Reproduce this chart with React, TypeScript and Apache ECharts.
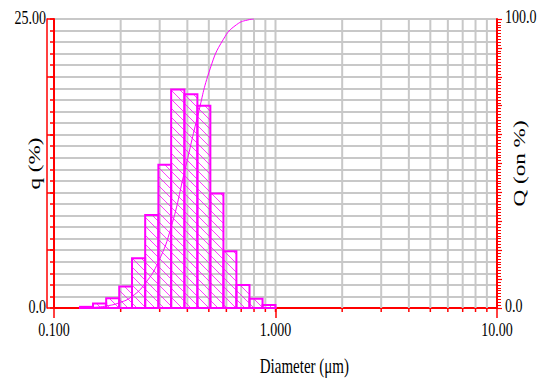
import React, { useEffect, useRef } from "react";
import * as echarts from "echarts";

// Bin edges (µm) of the histogram
const binEdges = [0.131, 0.150, 0.172, 0.197, 0.225, 0.258, 0.296, 0.338, 0.388, 0.444, 0.508, 0.582, 0.666, 0.763, 0.874, 1.0];
// q (%) per bin
const qValues = [0.1, 0.4, 0.85, 1.85, 4.3, 8.05, 12.4, 18.9, 18.5, 17.5, 9.9, 4.9, 2.0, 0.8, 0.25];
// Q (on %) cumulative at bin edges (up to where the curve meets the top)
const cumEdges = [0.131, 0.150, 0.172, 0.197, 0.225, 0.258, 0.296, 0.338, 0.388, 0.444, 0.508, 0.582, 0.666, 0.763, 0.800];
const cumValues = [0, 0.2, 0.7, 1.8, 4.0, 8.5, 16, 28, 47, 66, 83, 93, 98, 99.8, 100];
// log grid positions
const gridXs = [0.2, 0.3, 0.4, 0.5, 0.6, 0.7, 0.8, 0.9, 1, 2, 3, 4, 5, 6, 7, 8, 9];
// tick labels
const xTickValues = [0.1, 1, 10];
const xTickLabels = ["0.100", "1.000", "10.00"];
const qTickValues = [0, 25];
const qTickLabels = ["0.0", "25.00"];
const QTickValues = [0, 100];
const QTickLabels = ["0.0", "100.0"];

const RED = "#ff0000";
const MAG = "#ff00ff";
const GRID = "#c8c8c8";
const FAMILY = "'Liberation Serif', 'Times New Roman', serif";

export default function App() {
  const ref = useRef<HTMLDivElement>(null);
  useEffect(() => {
    if (!ref.current) return;
    const chart = echarts.init(ref.current, undefined, { renderer: "svg" });
    const binData = qValues.map((v, i) => [binEdges[i], binEdges[i + 1], v]);
    const option: any = {
      animation: false,
      backgroundColor: "#ffffff",
      grid: { left: 54, right: 45, top: 19, bottom: 71, containLabel: false },
      xAxis: [
        {
          type: "log", logBase: 10, min: 0.1, max: 10, position: "bottom",
          axisLine: { show: true, lineStyle: { color: RED, width: 2 } },
          axisTick: { show: true, inside: false, length: 10, lineStyle: { color: RED, width: 1.5 } },
          axisLabel: { show: false }, splitLine: { show: false }, minorTick: { show: false },
        },
        {
          type: "log", logBase: 10, min: 0.1, max: 10, position: "bottom", offset: 10,
          axisLine: { show: true, lineStyle: { color: RED, width: 1.5 } },
          axisTick: { show: false }, axisLabel: { show: false }, splitLine: { show: false },
        },
        {
          type: "log", logBase: 10, min: 0.1, max: 10, position: "top",
          axisLine: { show: true, lineStyle: { color: RED, width: 2 } },
          axisTick: { show: false }, axisLabel: { show: false }, splitLine: { show: false },
        },
      ],
      yAxis: [
        {
          type: "value", min: 0, max: 25, interval: 1, position: "left",
          axisLine: { show: true, lineStyle: { color: RED, width: 2 } },
          axisTick: { show: true, inside: false, length: 4, lineStyle: { color: RED, width: 1.5 } },
          axisLabel: { show: false },
          splitLine: { show: true, lineStyle: { color: GRID, width: 2 } },
        },
        {
          type: "value", min: 0, max: 100, interval: 10, position: "right",
          axisLine: { show: true, lineStyle: { color: RED, width: 2 } },
          axisTick: { show: true, inside: false, length: 5, lineStyle: { color: RED, width: 1.2 } },
          minorTick: { show: true, splitNumber: 10, length: 4, lineStyle: { color: RED, width: 1 } },
          axisLabel: { show: false }, splitLine: { show: false },
        },
        {
          type: "value", min: 0, max: 25, interval: 5, position: "left",
          axisLine: { show: false },
          axisTick: { show: true, inside: false, length: 7, lineStyle: { color: RED, width: 1.5 } },
          axisLabel: { show: false }, splitLine: { show: false },
        },
        {
          type: "value", min: 0, max: 25, position: "left", offset: 7,
          axisLine: { show: true, lineStyle: { color: RED, width: 1.5 } },
          axisTick: { show: false }, axisLabel: { show: false }, splitLine: { show: false },
        },
      ],
      series: [
        {
          type: "custom", name: "grid", xAxisIndex: 0, yAxisIndex: 0, z: 1, clip: false,
          data: gridXs.map((x) => [x, 0]),
          encode: { x: 0, y: 1 },
          renderItem: (params: any, api: any) => {
            const x = api.value(0);
            const b = api.coord([x, 0]);
            const t = api.coord([x, 25]);
            return {
              type: "group",
              children: [
                { type: "line", shape: { x1: b[0], y1: t[1], x2: b[0], y2: b[1] }, style: { stroke: GRID, lineWidth: 2 } },
                { type: "line", shape: { x1: b[0], y1: b[1], x2: b[0], y2: b[1] + 4 }, style: { stroke: RED, lineWidth: 1.5 } },
              ],
            };
          },
        },
        {
          type: "custom", name: "q", xAxisIndex: 0, yAxisIndex: 0, z: 3,
          data: binData,
          encode: { x: [0, 1], y: 2 },
          renderItem: (params: any, api: any) => {
            const lo = api.value(0), hi = api.value(1), v = api.value(2);
            const a = api.coord([lo, v]);
            const b = api.coord([hi, 0]);
            const x0 = a[0], x1 = b[0], yT = a[1], yB = b[1];
            const children: any[] = [];
            const sp = 9;
            const kStart = Math.ceil((yT - x1) / sp);
            const kEnd = Math.floor((yB - x0) / sp);
            for (let k = kStart; k <= kEnd; k++) {
              const c = k * sp;
              const xs = Math.max(x0, yT - c);
              const xe = Math.min(x1, yB - c);
              if (xe > xs) {
                children.push({
                  type: "line",
                  shape: { x1: xs, y1: xs + c, x2: xe, y2: xe + c },
                  style: { stroke: MAG, lineWidth: 1, opacity: 0.75 },
                });
              }
            }
            children.push({
              type: "rect",
              shape: { x: x0, y: yT, width: x1 - x0, height: yB - yT },
              style: { fill: "none", stroke: MAG, lineWidth: 2 },
            });
            return { type: "group", children };
          },
        },
        {
          type: "line", name: "Q", xAxisIndex: 0, yAxisIndex: 1, z: 4,
          data: cumEdges.map((e, i) => [e, cumValues[i]]),
          symbol: "none", smooth: 0.5,
          lineStyle: { color: MAG, width: 1 },
        },
      ],
    };
    chart.setOption(option);

    const graphics: any[] = [];
    const bottomY = chart.convertToPixel({ yAxisIndex: 0 }, 0) as number;
    const leftX = chart.convertToPixel({ xAxisIndex: 0 }, 0.1) as number;
    const rightX = chart.convertToPixel({ xAxisIndex: 0 }, 10) as number;
    const txt = (text: string, size: number, align: string) => ({
      text, fontSize: size, fontFamily: FAMILY, fontWeight: "normal", fill: "#000", align, verticalAlign: "middle",
    });
    xTickValues.forEach((v, i) => {
      const px = chart.convertToPixel({ xAxisIndex: 0 }, v) as number;
      graphics.push({ type: "text", x: px, y: bottomY + 22, scaleY: 1.4, z: 100, style: txt(xTickLabels[i], 14, "center") });
    });
    qTickValues.forEach((v, i) => {
      const py = chart.convertToPixel({ yAxisIndex: 0 }, v) as number;
      graphics.push({ type: "text", x: leftX - 8, y: py - 1, scaleY: 1.4, z: 100, style: txt(qTickLabels[i], 14, "right") });
    });
    QTickValues.forEach((v, i) => {
      const py = chart.convertToPixel({ yAxisIndex: 1 }, v) as number;
      graphics.push({ type: "text", x: rightX + 8, y: py - 2, scaleY: 1.4, z: 100, style: txt(QTickLabels[i], 14, "left") });
    });
    const midX = chart.convertToPixel({ xAxisIndex: 0 }, 1.35) as number;
    graphics.push({ type: "text", x: midX, y: bottomY + 57, scaleY: 1.45, z: 100, style: txt("Diameter (μm)", 15, "center") });
    const midY = chart.convertToPixel({ yAxisIndex: 0 }, 12.5) as number;
    graphics.push({ type: "text", x: 34, y: midY, rotation: Math.PI / 2, scaleX: 1.45, z: 100, style: txt("q (%)", 16, "center") });
    graphics.push({ type: "text", x: 519, y: midY, rotation: Math.PI / 2, scaleX: 1.45, z: 100, style: txt("Q (on %)", 16, "center") });
    chart.setOption({ graphic: graphics });

    return () => chart.dispose();
  }, []);
  return (
    <div
      ref={ref}
      style={{ position: "fixed", left: 0, top: 0, width: 542, height: 379 }}
    />
  );
}
